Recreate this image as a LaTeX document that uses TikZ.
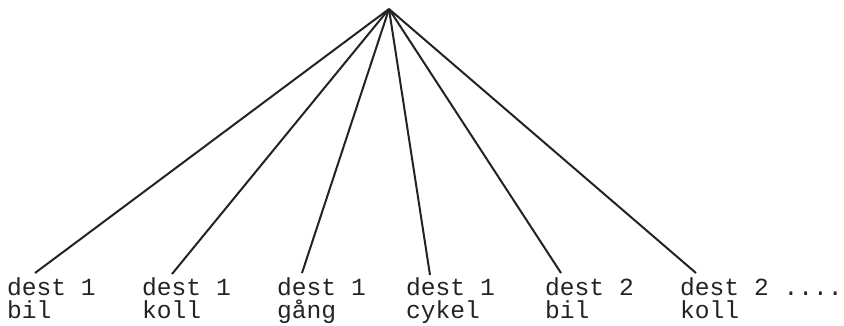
\documentclass[tikz,border=0pt]{standalone}
\usepackage{fontspec}
\setmonofont{Liberation Mono}
\usetikzlibrary{positioning}
\definecolor{inkgrey}{RGB}{35, 35, 35}
\tikzset{
  choice/.style={
    anchor=north west,
    inner sep=0pt,
    align=left,
    text=inkgrey,
    font=\ttfamily\fontsize{24.6}{23}\selectfont
  },
  branch/.style={
    draw=inkgrey,
    line width=2pt
  }
}

\begin{document}
\begin{tikzpicture}[x=1pt, y=-1pt]
          \useasboundingbox (0,0) rectangle (844,325);
          \coordinate (root) at (389, 9);
          \node[choice] (d1bil) at (7, 277) {dest 1\\bil};
          \node[choice] (d1koll) at (142, 277) {dest 1\\koll};
          \node[choice] (d1gang) at (277, 277) {dest 1\\gång};
          \node[choice] (d1cykel) at (406, 277) {dest 1\\cykel};
          \node[choice] (d2bil) at (545, 277) {dest 2\\bil};
          \node[choice] (d2koll) at (680, 277) {dest 2 ....\\koll};

          \draw[branch] (root) -- ([xshift=28, yshift=4]d1bil.north west);
          \draw[branch] (root) -- ([xshift=30, yshift=3]d1koll.north west);
          \draw[branch] (root) -- ([xshift=25, yshift=4]d1gang.north west);
          \draw[branch] (root) -- ([xshift=24, yshift=2]d1cykel.north west);
          \draw[branch] (root) -- ([xshift=16, yshift=4]d2bil.north west);
          \draw[branch] (root) -- ([xshift=16, yshift=4]d2koll.north west);
        \end{tikzpicture}
\end{document}
